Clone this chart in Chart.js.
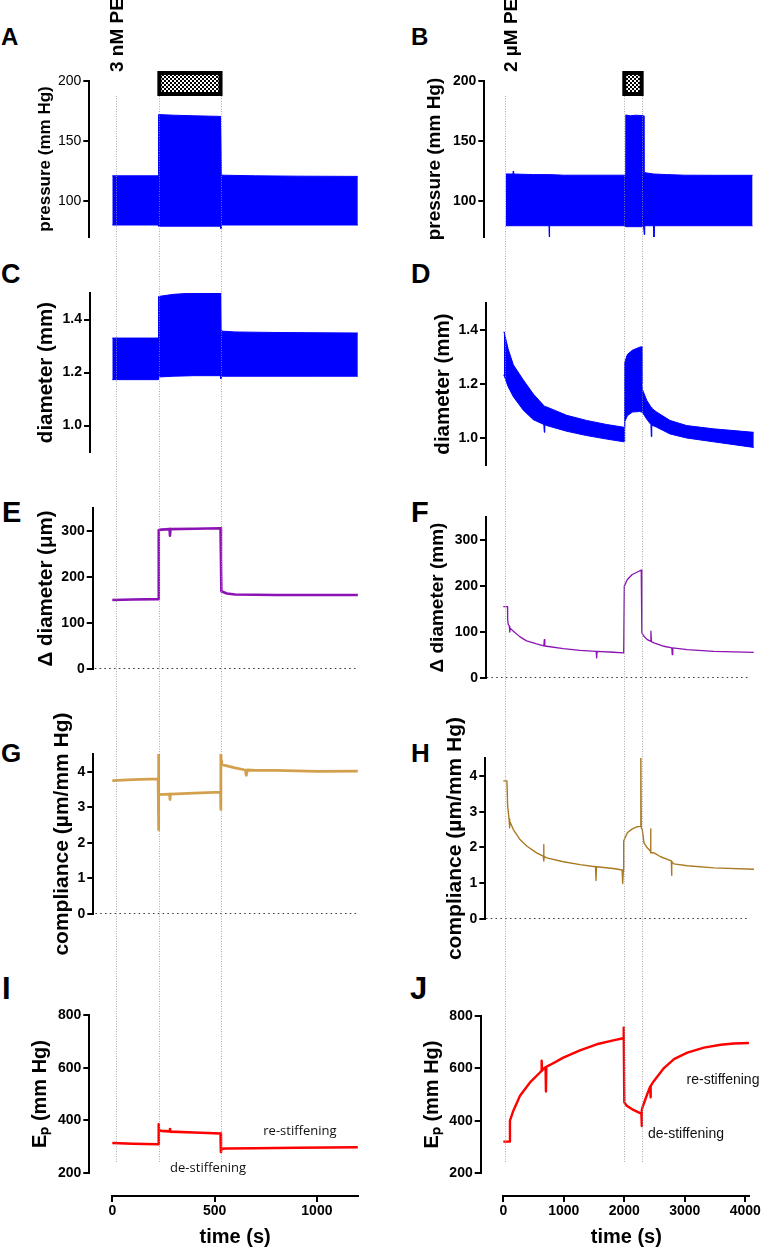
<!DOCTYPE html>
<html>
<head>
<meta charset="utf-8">
<script src="https://cdn.jsdelivr.net/npm/chart.js@4.4.1/dist/chart.umd.min.js"></script>
<style>
  body { margin: 0; background: #fff; width: 763px; height: 1249px; position: relative; overflow: hidden; }
  canvas { position: absolute; }
  .lbl { position: absolute; font-family: 'Liberation Sans', Arial, sans-serif; font-weight: bold; line-height: 1; color: #000; }
</style>
</head>
<body>
<div class="lbl" style="left:1px;top:25px;font-size:24px">A</div>
<div class="lbl" style="left:411px;top:25px;font-size:24px">B</div>
<div class="lbl" style="left:1px;top:261px;font-size:27px">C</div>
<div class="lbl" style="left:411px;top:261px;font-size:27px">D</div>
<div class="lbl" style="left:2px;top:498px;font-size:29px">E</div>
<div class="lbl" style="left:411px;top:498px;font-size:29px">F</div>
<div class="lbl" style="left:1px;top:740px;font-size:26px">G</div>
<div class="lbl" style="left:411px;top:740px;font-size:26px">H</div>
<div class="lbl" style="left:2px;top:973px;font-size:31px">I</div>
<div class="lbl" style="left:410px;top:973px;font-size:31px">J</div>

<script>
const FONT = "'Liberation Sans', Arial, sans-serif";

// event markers (s): start, PE on, PE off
const markLeft = [18, 230, 529];
const markRight = [28, 2000, 2287];
const peLeft = [230, 529];
const peRight = [2000, 2287];

// tick labels
const xTicksLeft = [0, 500, 1000];
const xTicksRight = [0, 1000, 2000, 3000, 4000];
const pTicks = [100, 150, 200];
const dTicks = [1.0, 1.2, 1.4];
const ddTicks = [0, 100, 200, 300];
const cTicks = [0, 1, 2, 3, 4];
const eTicks = [200, 400, 600, 800];

// A: pressure envelope, 3 nM PE
const tA = [0, 224, 226, 300, 400, 529, 531, 533, 540, 700, 900, 1200];
const aHi = [121, 121, 172, 171.5, 171, 170.5, 170.5, 122, 121.5, 121, 120.7, 120.5];
const aLo = [80, 80, 79, 79, 79, 79, 77, 80, 80, 80, 80, 80];

// B: pressure envelope, 2 uM PE
const tB = [40, 160, 165, 170, 500, 755, 760, 765, 1000, 1500, 2000, 2020, 2025, 2100, 2200, 2320, 2325, 2330, 2335, 2340, 2485, 2490, 2495, 2700, 3000, 3500, 4120];
const bHi = [122.5, 122.5, 125, 122.5, 122, 122, 122, 122, 121.5, 121.5, 121.5, 121.5, 171.7, 171, 171.5, 171, 124, 124, 123.6, 123.6, 122.5, 122.5, 122.5, 122, 121.5, 121.4, 121.4];
const bLo = [79.4, 79.4, 79.4, 79.4, 79.4, 79.4, 70, 79.4, 79.4, 79.4, 79.4, 79.4, 78.6, 78.6, 78.6, 78.6, 78.6, 72, 79.4, 79.4, 79.4, 70, 79.4, 79.4, 79.4, 79.4, 79.4];

// C: diameter envelope
const tC = [0, 225, 226, 300, 400, 530, 531, 532, 540, 600, 800, 1000, 1200];
const cHi = [1.33, 1.33, 1.487, 1.495, 1.5, 1.503, 1.503, 1.359, 1.356, 1.353, 1.351, 1.35, 1.349];
const cLo = [1.173, 1.173, 1.183, 1.186, 1.188, 1.188, 1.176, 1.186, 1.186, 1.186, 1.186, 1.186, 1.186];

// D: diameter envelope
const tD = [12, 16, 80, 166, 331, 496, 670, 678, 686, 717, 1048, 1378, 1709, 1990, 1998, 2003, 2010, 2050, 2132, 2250, 2285, 2292, 2300, 2370, 2440, 2447, 2454, 2535, 2756, 3031, 3471, 4140];
const dHi = [1.393, 1.39, 1.33, 1.271, 1.215, 1.163, 1.12, 1.118, 1.117, 1.115, 1.084, 1.065, 1.05, 1.04, 1.04, 1.26, 1.28, 1.309, 1.325, 1.336, 1.338, 1.20, 1.18, 1.14, 1.115, 1.113, 1.11, 1.096, 1.065, 1.046, 1.034, 1.021];
const dLo = [1.234, 1.23, 1.19, 1.153, 1.103, 1.068, 1.05, 1.021, 1.049, 1.046, 1.025, 1.009, 0.996, 0.986, 0.986, 1.04, 1.06, 1.082, 1.096, 1.098, 1.096, 1.10, 1.095, 1.07, 1.05, 1.005, 1.048, 1.04, 1.015, 1.0, 0.986, 0.965];

// E: delta diameter (um)
const tE = [0, 100, 224, 226, 228, 240, 280, 282, 284, 400, 529, 531, 533, 560, 600, 800, 1000, 1200];
const eV = [150, 151, 152, 260, 302, 303, 304, 290, 304, 305, 306, 240, 169, 164, 162, 161, 161, 161];

// F: delta diameter
const tF = [0, 70, 72, 80, 100, 105, 110, 166, 276, 386, 551, 670, 678, 686, 716, 992, 1267, 1535, 1543, 1551, 1818, 1990, 1995, 2000, 2050, 2132, 2242, 2280, 2290, 2325, 2380, 2432, 2440, 2448, 2490, 2655, 2785, 2793, 2801, 3040, 3480, 4140];
const fV = [155, 155, 127, 118, 112, 100, 109, 101.7, 89.4, 80.6, 74, 70, 83.5, 69.5, 69, 64, 60.2, 58, 43.6, 58, 56, 54.5, 54.5, 199.7, 214, 225, 232, 234.6, 98, 90.7, 83.5, 80, 101.6, 79, 76.3, 69, 65.5, 50.8, 65.4, 61.7, 58, 55.8];

// G: compliance
const tG = [0, 100, 224, 225, 226, 227, 228, 280, 282, 284, 400, 529, 530, 531, 532, 535, 600, 650, 655, 660, 700, 800, 1000, 1200];
const gV = [3.75, 3.78, 3.8, 4.52, 2.37, 3.3, 3.36, 3.37, 3.22, 3.37, 3.4, 3.43, 2.94, 4.52, 4.3, 4.2, 4.11, 4.05, 3.9, 4.05, 4.04, 4.04, 4.01, 4.02];

// H: compliance
const tH = [0, 60, 72, 95, 100, 105, 110, 166, 276, 386, 551, 660, 667, 672, 676, 716, 992, 1267, 1525, 1532, 1540, 1818, 1965, 1973, 1985, 1990, 2050, 2132, 2215, 2265, 2272, 2275, 2280, 2297, 2325, 2380, 2430, 2435, 2440, 2490, 2600, 2766, 2778, 2782, 2786, 2821, 3041, 3482, 4143];
const hV = [3.86, 3.86, 3.16, 2.8, 2.55, 2.75, 2.74, 2.5, 2.22, 2.04, 1.85, 1.76, 2.08, 1.62, 1.75, 1.71, 1.6, 1.52, 1.46, 1.08, 1.46, 1.41, 1.37, 0.99, 1.37, 2.18, 2.41, 2.52, 2.58, 2.59, 2.6, 4.52, 2.55, 2.5, 2.13, 1.99, 1.9, 2.52, 1.85, 1.85, 1.74, 1.63, 1.62, 1.22, 1.6, 1.54, 1.49, 1.43, 1.39];

// I: Ep
const tI = [0, 100, 224, 226, 228, 240, 280, 282, 284, 400, 529, 531, 533, 560, 700, 900, 1200];
const iV = [314, 311, 309, 385, 362, 360, 358, 367, 357, 354, 350, 280, 292, 293, 294, 296, 298];

// J: Ep
const tJ = [0, 108, 110, 166, 276, 441, 606, 628, 634, 640, 698, 705, 712, 771, 992, 1267, 1543, 1818, 1980, 1988, 1992, 2000, 2040, 2150, 2270, 2283, 2287, 2292, 2300, 2380, 2427, 2433, 2439, 2490, 2655, 2821, 3041, 3317, 3592, 3812, 4060];
const jV = [320, 320, 400, 438, 495, 546, 584, 590, 629, 592, 605, 512, 606, 613, 641, 669, 692, 707, 715, 716, 755, 470, 457, 441, 428, 426, 379, 440, 451, 502, 530, 489, 533, 552, 601, 635, 660, 679, 690, 695, 697];

// annotations
const notesLeft = [
  { t: 917, v: 359, text: 're-stiffening' },
  { t: 468, v: 219, text: 'de-stiffening' }
];
const notesRight = [
  { t: 3631, v: 556, text: 're-stiffening' },
  { t: 3019, v: 347, text: 'de-stiffening' }
];

// column geometry (px)
const COLS = {
  left:  { x0: 0,   w: 380, zeroPx: 112.3, perUnit: 0.2046, right: 362, axisEnd: 358 },
  right: { x0: 380, w: 383, zeroPx: 503.3, perUnit: 0.0605, right: 758, axisEnd: 749.3 }
};

const zip = (t, v) => t.map((x, i) => ({ x: x, y: v[i] }));

function checker(ctx) {
  const c = document.createElement('canvas');
  c.width = 4; c.height = 4;
  const g = c.getContext('2d');
  g.fillStyle = '#fff'; g.fillRect(0, 0, 4, 4);
  g.fillStyle = '#000'; g.fillRect(0, 0, 2, 2); g.fillRect(2, 2, 2, 2);
  return ctx.createPattern(c, 'repeat');
}

function pePlugin(pe, mark, label, dx) {
  return {
    id: 'pe',
    afterDraw(chart) {
      const ctx = chart.ctx, x = chart.scales.x;
      const x1 = x.getPixelForValue(pe[0]), x2 = x.getPixelForValue(pe[1]);
      ctx.save();
      ctx.fillStyle = checker(ctx);
      ctx.fillRect(x1, 73, x2 - x1, 21);
      ctx.lineWidth = 4;
      ctx.strokeStyle = '#000';
      ctx.strokeRect(x1, 73, x2 - x1, 21);
      ctx.translate(x.getPixelForValue(mark[0]) + dx, 72);
      ctx.rotate(-Math.PI / 2);
      ctx.font = 'bold 19px ' + FONT;
      ctx.fillStyle = '#000';
      ctx.textBaseline = 'middle';
      ctx.textAlign = 'left';
      ctx.fillText(label, 0, 0);
      ctx.restore();
    }
  };
}

function notePlugin(notes, font) {
  return {
    id: 'notes',
    afterDraw(chart) {
      const ctx = chart.ctx;
      ctx.save();
      ctx.font = font;
      ctx.fillStyle = '#111';
      ctx.textAlign = 'center';
      ctx.textBaseline = 'middle';
      notes.forEach(n => {
        ctx.fillText(n.text, chart.scales.x.getPixelForValue(n.t), chart.scales.y.getPixelForValue(n.v));
      });
      ctx.restore();
    }
  };
}

function addCanvas(left, top, w, h) {
  const c = document.createElement('canvas');
  c.width = w; c.height = h;
  c.style.left = left + 'px';
  c.style.top = top + 'px';
  c.style.width = w + 'px';
  c.style.height = h + 'px';
  document.body.appendChild(c);
  return c;
}

function makePanel(p) {
  const col = COLS[p.col];
  const padT = p.padT || 50, padB = 50;
  const h = (p.bottom - p.top) + padT + padB;
  const cv = addCanvas(col.x0, p.top - padT, col.w, h);
  const xMin = (p.axisPx - col.zeroPx) / col.perUnit;
  const xMax = (col.right - col.zeroPx) / col.perUnit;

  const datasets = [];
  if (p.band) {
    datasets.push({ data: zip(p.band[0], p.band[1]), borderColor: p.color, borderWidth: 1, fill: false });
    datasets.push({ data: zip(p.band[0], p.band[2]), borderColor: p.color, borderWidth: 1, fill: '-1', backgroundColor: p.color });
  }
  if (p.line) {
    datasets.push({ data: zip(p.line[0], p.line[1]), borderColor: p.color, borderWidth: p.lw, borderJoinStyle: 'round', fill: false });
  }
  if (p.zero) {
    datasets.push({ data: [{ x: xMin + 10, y: 0 }, { x: p.zero, y: 0 }], borderColor: '#000', borderWidth: 1.6, borderDash: [1.6, 3.2], fill: false });
  }

  const titleLH = p.titleSize * 1.2;
  const chart = new Chart(cv, {
    type: 'line',
    data: { datasets: datasets },
    options: {
      responsive: false,
      animation: false,
      events: [],
      layout: { padding: { left: 0, right: col.x0 + col.w - col.right, top: padT, bottom: padB } },
      plugins: { legend: { display: false }, tooltip: { enabled: false } },
      elements: { point: { radius: 0 }, line: { tension: 0 } },
      scales: {
        x: { type: 'linear', display: false, min: xMin, max: xMax },
        y: {
          min: p.yMin, max: p.yMax,
          afterBuildTicks: s => { s.ticks = p.yTicks.map(v => ({ value: v })); },
          afterFit: s => { s.width = p.axisPx - col.x0; },
          border: { display: true, color: '#000', width: 2 },
          grid: { drawOnChartArea: false, drawTicks: true, tickLength: 6, color: '#000', lineWidth: 2 },
          ticks: {
            autoSkip: false, color: '#000', padding: 2,
            font: { family: FONT, size: 14, weight: p.tickWeight || 'bold' },
            callback: v => p.fmt ? v.toFixed(1) : String(v)
          },
          title: {
            display: true, text: p.title, color: '#000',
            font: { family: FONT, size: p.titleSize, weight: 'bold' },
            padding: { top: p.titleX - titleLH / 2, bottom: 0 }
          }
        }
      }
    },
    plugins: p.plugins || []
  });
  return chart;
}

function makeTimeAxis(colName, ticks) {
  const col = COLS[colName];
  const cv = addCanvas(col.x0, 1176, col.w, 73);
  return new Chart(cv, {
    type: 'line',
    data: { datasets: [{ data: [] }] },
    options: {
      responsive: false,
      animation: false,
      events: [],
      layout: { padding: { left: col.zeroPx - col.x0, right: col.x0 + col.w - col.axisEnd, top: 0, bottom: 0 } },
      plugins: { legend: { display: false }, tooltip: { enabled: false } },
      scales: {
        y: { display: false, min: 0, max: 1 },
        x: {
          type: 'linear', min: 0, max: (col.axisEnd - col.zeroPx) / col.perUnit,
          afterBuildTicks: s => { s.ticks = ticks.map(v => ({ value: v })); },
          afterFit: s => { s.height = 53; },
          border: { display: true, color: '#000', width: 2 },
          grid: { drawOnChartArea: false, drawTicks: true, tickLength: 6, color: '#000', lineWidth: 2 },
          ticks: {
            autoSkip: false, maxRotation: 0, color: '#000', padding: 1,
            font: { family: FONT, size: 14, weight: 'bold' },
            callback: v => String(v)
          },
          title: { display: true, text: 'time (s)', color: '#000', font: { family: FONT, size: 20, weight: 'bold' }, padding: { top: 0, bottom: 0 } }
        }
      }
    }
  });
}

const chartA = makePanel({ col: 'left', top: 81, bottom: 237, axisPx: 89.3, yMin: 70, yMax: 200, yTicks: pTicks,
  title: 'pressure (mm Hg)', titleSize: 17, titleX: 45.8, tickWeight: 'normal', band: [tA, aHi, aLo], color: '#0000ff',
  padT: 81, plugins: [pePlugin(peLeft, markLeft, '3 nM PE', 2)] });
const chartB = makePanel({ col: 'right', top: 81, bottom: 237, axisPx: 484.3, yMin: 70, yMax: 200, yTicks: pTicks,
  title: 'pressure (mm Hg)', titleSize: 19, titleX: 55, band: [tB, bHi, bLo], color: '#0000ff',
  padT: 81, plugins: [pePlugin(peRight, markRight, '2 \u00b5M PE', 7)] });

makePanel({ col: 'left', top: 293, bottom: 452, axisPx: 90, yMin: 0.9, yMax: 1.5, yTicks: dTicks, fmt: true,
  title: 'diameter (mm)', titleSize: 20.5, titleX: 46.7, band: [tC, cHi, cLo], color: '#0000ff' });
makePanel({ col: 'right', top: 303, bottom: 465, axisPx: 486, yMin: 0.9, yMax: 1.5, yTicks: dTicks, fmt: true,
  title: 'diameter (mm)', titleSize: 20.5, titleX: 63.3, band: [tD, dHi, dLo], color: '#0000ff' });

makePanel({ col: 'left', top: 508, bottom: 669, axisPx: 92.7, yMin: 0, yMax: 350, yTicks: ddTicks,
  title: '\u0394 diameter (\u03bcm)', titleSize: 20.5, titleX: 46, line: [tE, eV], lw: 2.6, color: '#8c12b4', zero: 1196 });
makePanel({ col: 'right', top: 517, bottom: 678, axisPx: 486, yMin: 0, yMax: 350, yTicks: ddTicks,
  title: '\u0394 diameter (mm)', titleSize: 19, titleX: 57.5, line: [tF, fV], lw: 1.3, color: '#8c12b4', zero: 4078 });

makePanel({ col: 'left', top: 754, bottom: 914, axisPx: 93.3, yMin: 0, yMax: 4.5, yTicks: cTicks,
  title: 'compliance (\u00b5m/mm Hg)', titleSize: 21, titleX: 62.5, line: [tG, gV], lw: 2.8, color: '#d3a14e', zero: 1196 });
makePanel({ col: 'right', top: 758, bottom: 919, axisPx: 485.3, yMin: 0, yMax: 4.5, yTicks: cTicks,
  title: 'compliance (\u00b5m/mm Hg)', titleSize: 21, titleX: 75, line: [tH, hV], lw: 1.4, color: '#a97a22', zero: 4078 });

makePanel({ col: 'left', top: 1015, bottom: 1173, axisPx: 89.3, yMin: 200, yMax: 800, yTicks: eTicks,
  title: 'E\u209a (mm Hg)', titleSize: 20, titleX: 40, line: [tI, iV], lw: 2.6, color: '#ff0000',
  plugins: [notePlugin(notesLeft, "13px 'Open Sans', sans-serif")] });
makePanel({ col: 'right', top: 1016, bottom: 1173, axisPx: 480.7, yMin: 200, yMax: 800, yTicks: eTicks,
  title: 'E\u209a (mm Hg)', titleSize: 20, titleX: 52.5, line: [tJ, jV], lw: 2.4, color: '#ff0000',
  plugins: [notePlugin(notesRight, '14px ' + FONT)] });

makeTimeAxis('left', xTicksLeft);
makeTimeAxis('right', xTicksRight);

// dotted event lines across all panels
const ov = addCanvas(0, 0, 763, 1249);
ov.style.pointerEvents = 'none';
const octx = ov.getContext('2d');
octx.strokeStyle = 'rgba(150,150,150,0.8)';
octx.lineWidth = 1;
octx.setLineDash([1, 1.5]);
[[chartA, markLeft, COLS.left.x0], [chartB, markRight, COLS.right.x0]].forEach(([ch, marks, x0]) => {
  marks.forEach(t => {
    const X = Math.round(x0 + ch.scales.x.getPixelForValue(t)) + 0.5;
    octx.beginPath();
    octx.moveTo(X, 96);
    octx.lineTo(X, 1162);
    octx.stroke();
  });
});
</script>
</body>
</html>
